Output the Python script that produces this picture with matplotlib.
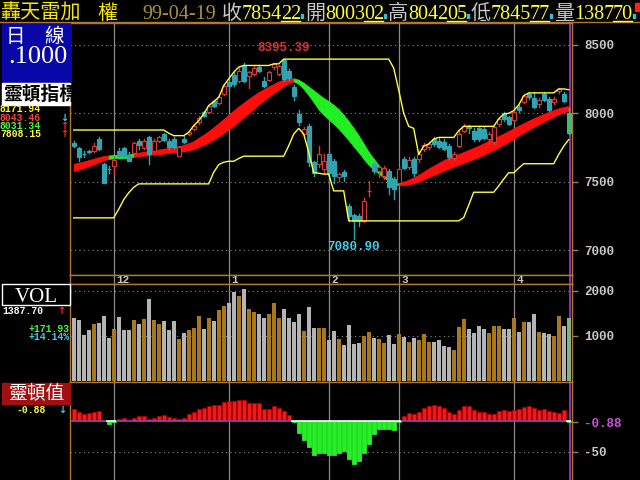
import numpy as np
import matplotlib.pyplot as plt
from matplotlib.patches import Rectangle

# ---------------------------------------------------------------------------
# daily bars, weighted index, Nov 2009 .. 99-04-19  (index 0 = oldest bar)

opens = [7780, 7744, 7705, 7722, 7722, 7812, 7629, 7596, 7617, 7722,
         7744, 7695, 7707, 7800, 7746, 7829, 7722, 7795, 7849, 7800,
         7812, 7690, 7812, 7849, 7885, 7934, 8007, 8007, 8093, 8076,
         8141, 8232, 8281, 8239, 8344, 8271, 8288, 8337, 8239, 8246,
         8337, 8288, 8386, 8312, 8190, 7995, 7849, 7910, 7641, 7629,
         7593, 7702, 7654, 7532, 7573, 7324, 7256, 7251, 7215, 7432,
         7629, 7580, 7539, 7580, 7519, 7495, 7666, 7605, 7666, 7666,
         7739, 7751, 7812, 7800, 7788, 7763, 7671, 7763, 7873, 7905,
         7873, 7890, 7888, 7812, 7788, 7922, 7995, 7971, 7951, 8044,
         8085, 8141, 8110, 8068, 8141, 8105, 8080, 8165, 8141, 8003.02]
highs = [7800, 7751, 7722, 7730, 7783, 7829, 7636, 7617, 7678, 7746,
         7751, 7715, 7788, 7812, 7812, 7837, 7812, 7837, 7856, 7812,
         7829, 7763, 7837, 7870, 7922, 7978, 8020, 8068, 8100, 8129,
         8215, 8251, 8300, 8329, 8365, 8312, 8349, 8349, 8263, 8312,
         8368, 8354, 8395.39, 8324, 8207, 8027, 7898, 7922, 7654, 7763,
         7702, 7715, 7666, 7568, 7585, 7336, 7263, 7263, 7385, 7507,
         7641, 7617, 7617, 7593, 7532, 7605, 7678, 7678, 7678, 7727,
         7783, 7788, 7829, 7817, 7812, 7776, 7715, 7873, 7922, 7915,
         7890, 7905, 7898, 7861, 7915, 7971, 8007, 7983, 8027, 8061,
         8134, 8159, 8154, 8110, 8154, 8117, 8117, 8183, 8154, 8042.05]
lows = [7751, 7654, 7678, 7710, 7715, 7734, 7490, 7568, 7556, 7678,
        7678, 7649, 7702, 7739, 7739, 7629, 7715, 7788, 7800, 7739,
        7744, 7685, 7780, 7840, 7878, 7922, 7971, 8002, 8044, 8068,
        8134, 8166, 8202, 8232, 8227, 8183, 8276, 8305, 8190, 8239,
        8324, 8281, 8239, 8246, 8100, 7915, 7837, 7617, 7544, 7605,
        7568, 7495, 7495, 7507, 7507, 7214, 7080.90, 7178, 7207, 7397,
        7568, 7532, 7524, 7410, 7378, 7483, 7593, 7593, 7544, 7646,
        7727, 7739, 7763, 7744, 7732, 7666, 7661, 7751, 7861, 7856,
        7800, 7800, 7812, 7776, 7776, 7910, 7946, 7915, 7946, 8012,
        8076, 8105, 8037, 8044, 8093, 8020, 8068, 8150, 8080, 7845.77]
closes = [7758, 7678, 7700, 7715, 7763, 7739, 7495, 7590, 7658, 7685,
          7690, 7654, 7783, 7768, 7800, 7702, 7800, 7829, 7807, 7751,
          7751, 7751, 7788, 7861, 7910, 7966, 7978, 8056, 8056, 8117,
          8202, 8202, 8215, 8312, 8239, 8300, 8329, 8312, 8202, 8300,
          8361, 8344, 8251, 8256, 8124, 7934, 7885, 7641, 7568, 7702,
          7654, 7568, 7544, 7556, 7544, 7251, 7215, 7215, 7361, 7436,
          7580, 7605, 7598, 7459, 7446, 7593, 7598, 7661, 7568, 7702,
          7768, 7776, 7776, 7751, 7739, 7678, 7702, 7849, 7905, 7890,
          7812, 7812, 7817, 7849, 7898, 7959, 7959, 7922, 8012, 8024,
          8124, 8117, 8044, 8098, 8100, 8027, 8105, 8178, 8093, 7854.22]
volume = [1400, 1348, 1015, 1141, 1259, 1289, 1437, 963, 1163, 1422,
          1141, 1141, 1363, 1274, 1385, 1815, 1363, 1274, 1326, 1141,
          1326, 941, 1074, 1126, 1185, 1437, 1163, 1407, 1326, 1570,
          1659, 1733, 1963, 1881, 2037, 1607, 1533, 1481, 1407, 1481,
          1719, 1407, 1607, 1407, 1311, 1496, 1111, 1644, 1185, 1185,
          1185, 904, 1104, 926, 793, 1237, 815, 837, 993, 1081,
          948, 926, 837, 1015, 815, 1037, 970, 859, 948, 904,
          1037, 859, 859, 904, 770, 748, 681, 1193, 1370, 1148,
          1059, 1215, 1148, 1059, 1215, 1215, 1148, 1148, 1393, 1081,
          1304, 1304, 1481, 1081, 1059, 1044, 993, 1437, 1215.77, 1387.70]

# channel lines (yellow)
upper_line = [7878] * 19 + [7855, 7837, 7837, 7837, 7861, 7910, 7946, 7995, 8056,
              8085, 8117, 8202, 8251, 8300, 8337] + [8349] * 6 + [8361, 8361] + \
             [8395.39] * 22 + [8330, 8170, 8000, 7905, 7890, 7700, 7760, 7776, 7812,
              7824, 7824, 7824, 7824, 7873] + [7905] * 7 + [7959, 7995, 8000, 8020,
              8061, 8129] + [8149] * 6 + [8178, 8178, 8171.94]
lower_line = [7237] * 9 + [7300, 7370, 7420, 7460] + [7485] * 15 + \
             [7570, 7625, 7643, 7650, 7650, 7670] + [7687] * 9 + \
             [7763, 7849, 7890, 7849, 7715, 7568, 7563, 7556, 7556, 7434, 7434, 7434] + \
             [7215] * 23 + [7239, 7330] + [7424] * 5 + [7470, 7520, 7566, 7566, 7600] + \
             [7632] * 7 + [7700, 7760, 7808.15]

# 靈頓指 band: midpoint of the two lines and their spread (red line - green line)
band_mid = [7605, 7614, 7624, 7636, 7649, 7661, 7673, 7680, 7683, 7683,
            7685, 7688, 7695, 7700, 7705, 7710, 7715, 7719, 7724, 7729,
            7734, 7739, 7746, 7756, 7768, 7788, 7807, 7829, 7854, 7880,
            7907, 7937, 7966, 7995, 8024, 8054, 8081, 8110, 8134, 8159,
            8181, 8203, 8222, 8237, 8244, 8230, 8200, 8163, 8124, 8083,
            8050, 8022, 7992, 7958, 7917, 7873, 7824, 7776, 7722, 7671,
            7629, 7590, 7556, 7526, 7502, 7486, 7488, 7498, 7511, 7527,
            7546, 7565, 7584, 7602, 7620, 7636, 7650, 7664, 7678, 7693,
            7707, 7723, 7739, 7757, 7775, 7793, 7812, 7832, 7853, 7874,
            7894, 7913, 7932, 7950, 7967, 7984, 8000, 8015, 8027, 8037.40]
band_gap = [30, 28, 25, 22, 18, 14, 8, -2, -3, -3,
            -2, -1, 1, 3, 5, 7, 9, 11, 13, 15,
            17, 20, 24, 29, 36, 45, 52, 60, 68, 74,
            80, 85, 88, 88, 85, 80, 76, 68, 61, 51,
            44, 37, 27, 12, 0, -8, -22, -39, -63, -88,
            -100, -110, -116, -120, -120, -115, -110, -100, -88, -71,
            -56, -39, -27, -15, -7, 0, 2, 12, 19, 27,
            34, 41, 46, 51, 54, 55, 55, 56, 57, 58,
            59, 60, 61, 62, 62, 61, 59, 56, 53, 50,
            47, 44, 41, 38, 34, 30, 25, 20, 15, 12.12]

# 靈頓值 histogram
osc = [20, 15, 11.7, 13.3, 15, 16.7, 0.5, -4.4, -0.5, 3.3,
       5, 1, 5, 8.3, 8.3, 3.3, 5, 8.3, 10, 6.7,
       5, 3.3, 5, 11.7, 15, 20, 21.7, 25, 26.7, 26.7,
       31.7, 33.3, 33.3, 35, 35, 30, 30, 30, 20, 20,
       25, 21.7, 16.7, 10, -0.5, -18.3, -30, -42.8, -55, -51.7,
       -51.7, -55, -55, -51.7, -48, -61.7, -69.4, -65, -51.7, -36.7,
       -20, -11.7, -11.7, -11.7, -13.3, -0.5, 8.3, 13.3, 11.7, 15,
       21.7, 25, 26.7, 25, 21.7, 15, 11.7, 18.3, 25, 25,
       18.3, 15, 15, 11.7, 11.7, 16.7, 18.3, 16.7, 18.3, 20,
       23.3, 25, 21.7, 18.3, 20, 16.7, 15, 13.3, 18.3, -0.88]

month_labels    = ["12", "1", "2", "3", "4"]
month_first_bar = [8, 31, 51, 65, 88]
price_ticks  = [7000, 7500, 8000, 8500]
volume_ticks = [1000, 2000]
osc_grid     = [-50]

title_name  = "轟天雷加"
title_kind  = "權"
title_date  = "99-04-19"
left_arrows = ["", "↓", "↑", "↑"]

# ---------------------------------------------------------------------------

EDGE       = "#b07830"
GRID       = "#8c8c8c"
LABEL      = "#c8c8c8"
YELLOW     = "#ffff3c"
CANDLE_UP  = "#d83a3a"
CANDLE_DN  = "#2fa5b4"
LAST_BAR   = "#45b878"
BAND_UP    = "#ff0c0c"
BAND_DN    = "#22f022"
VOL_UP     = "#a8781e"
VOL_DN     = "#b4b4b4"
VOL_LAST   = "#88b088"
OSC_UP     = "#f01818"
OSC_DN     = "#28f028"
PURPLE     = "#a040c0"
MAGENTA    = "#d050e0"
CYAN_TXT   = "#40d0f0"

MONO  = ["Liberation Mono", "DejaVu Sans"]
SERIF = ["Liberation Serif", "DejaVu Serif"]
CJK   = ["Noto Sans CJK TC", "DejaVu Sans"]
SMALL = 7

W, H = 640, 480
fig = plt.figure(figsize=(6.4, 4.8), dpi=100, facecolor="black")


def axes_px(x0, y0, x1, y1):
    return fig.add_axes([x0 / W, 1 - y1 / H, (x1 - x0) / W, (y1 - y0) / H])


ax_p = axes_px(70, 23, 572, 275)
ax_m = axes_px(70, 275, 572, 284)
ax_v = axes_px(70, 284, 572, 382)
ax_i = axes_px(70, 382, 572, 481)

n = len(closes)
x = np.arange(n)

for ax in (ax_p, ax_m, ax_v, ax_i):
    ax.set_facecolor("black")
    ax.set_xlim(-0.74, n - 1 + 0.66)
    ax.set_xticks([])
    ax.set_yticks([])
    for s in ax.spines.values():
        s.set_color(EDGE)
        s.set_linewidth(1)
    for m in month_first_bar:
        ax.axvline(m, color=GRID, lw=0.9, zorder=1)
    ax.axvline(n - 1 + 0.3, color=PURPLE, lw=1.2, zorder=1)


def right_axis(ax, ticks, labels, grid):
    ax.yaxis.tick_right()
    ax.set_yticks(ticks)
    ax.set_yticklabels(labels)
    ax.tick_params(axis="y", colors=EDGE, length=4, width=1, pad=5,
                   labelcolor=LABEL, labelsize=9)
    for t in ax.get_yticklabels():
        t.set_fontfamily(MONO)
        t.set_fontweight("bold")
    for v in grid:
        ax.axhline(v, color=GRID, lw=0.8, ls=(0, (1, 3)), zorder=0.5)


# ── price panel ────────────────────────────────────────────────────────────
ax_p.set_ylim(6820, 8659)
right_axis(ax_p, price_ticks, [str(t) for t in price_ticks], price_ticks)

mid = np.array(band_mid, dtype=float)
gap = np.array(band_gap, dtype=float)
fast = mid + gap / 2
slow = mid - gap / 2
top = np.maximum(fast, slow) + 11
bot = np.minimum(fast, slow) - 11
for i in range(n - 1):
    col = BAND_UP if gap[i] + gap[i + 1] > 0 else BAND_DN
    ax_p.fill_between(x[i:i + 2], bot[i:i + 2], top[i:i + 2],
                      color=col, lw=0.6, zorder=2)

for i in range(n):
    o, h, l, c = opens[i], highs[i], lows[i], closes[i]
    if i == n - 1:
        edge = face = LAST_BAR
    elif c >= o:
        edge, face = CANDLE_UP, "black"
    else:
        edge = face = CANDLE_DN
    ax_p.plot([i, i], [l, h], color=edge, lw=1, zorder=4)
    ax_p.add_patch(Rectangle((i - 0.36, min(o, c)), 0.72, max(abs(c - o), 3),
                             facecolor=face, edgecolor=edge, lw=0.8, zorder=5))

ax_p.plot(x, upper_line, color=YELLOW, lw=1, zorder=6)
ax_p.plot(x, lower_line, color=YELLOW, lw=1, zorder=6)

i_hi = int(np.argmax(highs))
i_lo = int(np.argmin(lows))
ax_p.annotate(f"{highs[i_hi]:.2f}", (i_hi, highs[i_hi]), xytext=(0, 4),
              textcoords="offset points", ha="center", va="bottom",
              color="#e03030", fontsize=9, family=MONO, weight="bold", zorder=7)
ax_p.annotate(f"{lows[i_lo]:.2f}", (i_lo, lows[i_lo]), xytext=(0, -1),
              textcoords="offset points", ha="center", va="top",
              color=CYAN_TXT, fontsize=9, family=MONO, weight="bold", zorder=7)

# ── month strip ────────────────────────────────────────────────────────────
ax_m.set_ylim(0, 1)
for m, lab in zip(month_first_bar, month_labels):
    ax_m.text(m + 0.6, 0.42, lab, color=LABEL, fontsize=8, family=MONO,
              weight="bold", va="center", ha="left")

# ── volume ─────────────────────────────────────────────────────────────────
ax_v.set_ylim(-20, 2150)
right_axis(ax_v, volume_ticks, [str(t) for t in volume_ticks], volume_ticks)
vcols = [VOL_UP if closes[i] >= opens[i] else VOL_DN for i in range(n)]
vcols[-1] = VOL_LAST
ax_v.bar(x, volume, width=0.8, color=vcols, lw=0, zorder=3)

# ── 靈頓值 ─────────────────────────────────────────────────────────────────
ax_i.set_ylim(-98, 65)
ax_i.spines["bottom"].set_visible(False)
right_axis(ax_i, [osc[-1]] + osc_grid,
           [f"{osc[-1]:.2f}"] + [str(v) for v in osc_grid], osc_grid)
ax_i.get_yticklabels()[0].set_color(MAGENTA)
ocols = [OSC_UP if v > 0 else OSC_DN for v in osc]
oedge = ["#a80000" if v > 0 else OSC_DN for v in osc]
ax_i.bar(x, osc, width=0.8, color=ocols, edgecolor=oedge, lw=0.6, zorder=3)
ax_i.hlines(np.zeros(n), x - 0.5, x + 0.5,
            colors=["#9040a8" if v > 0 else "white" for v in osc], lw=1.2, zorder=4)

# ── overlay in pixel coordinates: title bar and left column ────────────────
ov = fig.add_axes([0, 0, 1, 1])
ov.set_xlim(0, W)
ov.set_ylim(H, 0)
ov.axis("off")
ov.set_zorder(10)

ov.plot([0, W], [22, 22], color=EDGE, lw=1)

ov.text(0, 19, title_name, color="#f8e800", fontsize=14.5, family=CJK, va="baseline")
ov.text(97, 19, title_kind, color="#f8e800", fontsize=14.5, family=CJK, va="baseline")
ov.text(142, 19, title_date, color="#a89040", fontsize=14.5, family=SERIF, va="baseline")


def title_field(x0, label, value):
    whole, dec = f"{value:.2f}".split(".")
    ov.text(x0, 19, label, color=LABEL, fontsize=14.5, family=CJK, va="baseline")
    ov.text(x0 + 20, 19, whole, color=YELLOW, fontsize=14.5, family=SERIF, va="baseline")
    ov.text(x0 + 59, 19, dec, color=YELLOW, fontsize=14.5, family=SERIF, va="baseline")
    ov.plot([x0 + 59, x0 + 78], [20.5, 20.5], color=YELLOW, lw=1)
    ov.add_patch(Rectangle((x0 + 79, 14), 2, 4, color="#30c0e0"))


for k, (lab, val) in enumerate([("收", closes[-1]), ("開", opens[-1]),
                                ("高", highs[-1]), ("低", lows[-1]),
                                ("量", volume[-1])]):
    title_field(222 + 83 * k, lab, val)
ov.add_patch(Rectangle((635, 3), 5, 8, color="#ff2020"))

# 日線 box
ov.add_patch(Rectangle((2, 23), 68, 59, color="#0808a8"))
ov.text(6, 42, "日　線", color="white", fontsize=14, family=CJK, va="baseline")
ov.text(8, 63, ".1000", color="white", fontsize=19, family=SERIF, va="baseline")

# 靈頓指 box + values
box = Rectangle((2, 83), 68, 22, color="white")
ov.add_patch(box)
t = ov.text(3, 100, "靈頓指標", color="black", fontsize=13.5, family=CJK,
            weight="bold", va="baseline")
t.set_clip_path(box)

left_vals = [upper_line[-1], fast[-1], slow[-1], lower_line[-1]]
left_cols = [YELLOW, "#ff4040", "#40ff40", YELLOW]
arrow_cols = ["", CYAN_TXT, "#ff3030", "#ff3030"]
for k, (v, c, a, ac) in enumerate(zip(left_vals, left_cols, left_arrows, arrow_cols)):
    yb = 112.5 + 8.3 * k
    ov.text(0, yb, f"{v:.2f}", color=c, fontsize=SMALL, family=MONO, weight="bold",
            va="baseline")
    if a:
        ov.text(60, yb, a, color=ac, fontsize=SMALL, family=["DejaVu Sans"],
                weight="bold", va="baseline")

# VOL box + values
ov.add_patch(Rectangle((2, 284), 68, 21, facecolor="black", edgecolor="white", lw=1))
ov.text(36, 302, "VOL", color="white", fontsize=15, family=SERIF, ha="center", va="baseline")
dv = volume[-1] - volume[-2]
ov.text(2, 314, f"{volume[-1]:.2f}", color="white", fontsize=SMALL, family=MONO,
        weight="bold", va="baseline")
ov.text(57, 314, "↑", color="#ff3030", fontsize=SMALL, family=["DejaVu Sans"],
        weight="bold", va="baseline")
ov.text(70, 332, f"{dv:+.2f}", color="#40ff40", fontsize=SMALL, family=MONO, weight="bold",
        ha="right", va="baseline")
ov.text(70, 340.5, f"{dv / volume[-2] * 100:+.2f}%", color=CYAN_TXT, fontsize=SMALL,
        family=MONO, weight="bold", ha="right", va="baseline")

# 靈頓值 box + value
ov.add_patch(Rectangle((2, 383), 68, 21, color="#a01010"))
ov.text(36, 399, "靈頓值", color="white", fontsize=13.5, family=CJK, ha="center",
        va="baseline")
ov.text(17, 413, f"{osc[-1]:.2f}", color=YELLOW, fontsize=SMALL, family=MONO,
        weight="bold", va="baseline")
ov.text(58, 413, "↓", color=CYAN_TXT, fontsize=SMALL, family=["DejaVu Sans"],
        weight="bold", va="baseline")

fig.savefig("out.png", dpi=100, facecolor="black")
